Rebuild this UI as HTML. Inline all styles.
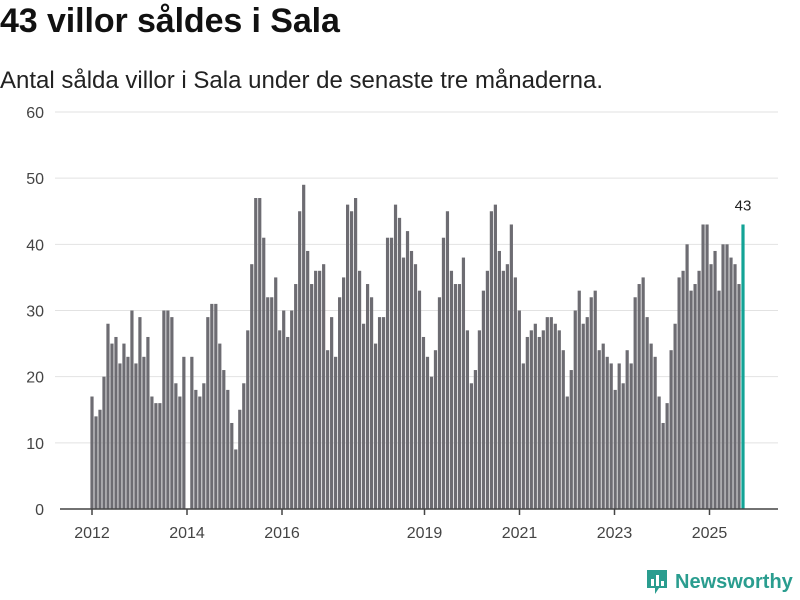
<!DOCTYPE html>
<html><head><meta charset="utf-8">
<style>
body{margin:0;width:800px;height:600px;background:#fff;font-family:"Liberation Sans","DejaVu Sans",sans-serif;overflow:hidden;position:relative}
#title{position:absolute;left:0;top:2px;font-size:34px;font-weight:bold;color:#111;margin:0;letter-spacing:-0.1px}
#sub{position:absolute;left:0;top:67px;font-size:24px;color:#222;letter-spacing:0px}
#logo{position:absolute;left:645px;top:568px;display:flex;align-items:center}
#logo span{font-size:20px;font-weight:bold;color:#2a9d8f;margin-left:6px}
</style></head><body>
<h1 id="title">43 villor såldes i Sala</h1>
<div id="sub">Antal sålda villor i Sala under de senaste tre månaderna.</div>
<svg id="chart" width="800" height="600" style="position:absolute;left:0;top:0"></svg>
<div id="logo">
<svg width="24" height="28"><path d="M2 2h20v18h-8l-4 6v-6H2z" fill="#2a9d8f"/><rect x="6" y="11" width="3" height="7" fill="#fff"/><rect x="11" y="7" width="3" height="11" fill="#fff"/><rect x="16" y="13" width="3" height="5" fill="#fff"/></svg>
<span>Newsworthy</span></div>
<script>
const values=[17,14,15,20,28,25,26,22,25,23,30,22,29,23,26,17,16,16,30,30,29,19,17,23,0,23,18,17,19,29,31,31,25,21,18,13,9,15,19,27,37,47,47,41,32,32,35,27,30,26,30,34,45,49,39,34,36,36,37,24,29,23,32,35,46,45,47,36,28,34,32,25,29,29,41,41,46,44,38,42,39,37,33,26,23,20,24,32,41,45,36,34,34,38,27,19,21,27,33,36,45,46,39,36,37,43,35,30,22,26,27,28,26,27,29,29,28,27,24,17,21,30,33,28,29,32,33,24,25,23,22,18,22,19,24,22,32,34,35,29,25,23,17,13,16,24,28,35,36,40,33,34,36,43,43,37,39,33,40,40,38,37,34,43];
const yTicks=[0,10,20,30,40,50,60];
const xTickYears=[2012,2014,2016,2019,2021,2023,2025];
const NS="http://www.w3.org/2000/svg";
const svg=document.getElementById('chart');
const y=v=>509-v*(397/60);
const xi=i=>92+i*(743-92)/(values.length-1);
const xYear=yr=>92+(yr-2012)*47.5;
function mk(t,a){const e=document.createElementNS(NS,t);for(const k in a)e.setAttribute(k,a[k]);svg.appendChild(e);return e;}
yTicks.forEach(t=>{
  if(t>0){const g=mk('line',{x1:55,x2:778,y1:y(t),y2:y(t),stroke:'#e2e2e2','stroke-width':1});
  
  }
  const l=mk('text',{x:44,y:y(t)+6,'text-anchor':'end','font-size':16,fill:'#444'});
  
  
  l.textContent=t;
});
values.forEach((v,i)=>{
  const last=i===values.length-1;
  const r=mk('rect',{x:xi(i)-1.6,y:y(v),width:3.2,height:509-y(v),fill:last?'#13a396':'#6d6c72'});
  
  
});
const lv=mk('text',{x:xi(values.length-1),y:y(values[values.length-1])-14,'text-anchor':'middle','font-size':15,fill:'#222'});


lv.textContent=values[values.length-1];
const ax=mk('line',{x1:60,x2:778,y1:509,y2:509,stroke:'#444','stroke-width':1.5});


xTickYears.forEach(yr=>{
  const t=mk('line',{x1:xYear(yr),x2:xYear(yr),y1:509,y2:515,stroke:'#444','stroke-width':1.5});
  
  
  const l=mk('text',{x:xYear(yr),y:538,'text-anchor':'middle','font-size':16,fill:'#444'});
  
  
  l.textContent=yr;
});
</script>
</body></html>
